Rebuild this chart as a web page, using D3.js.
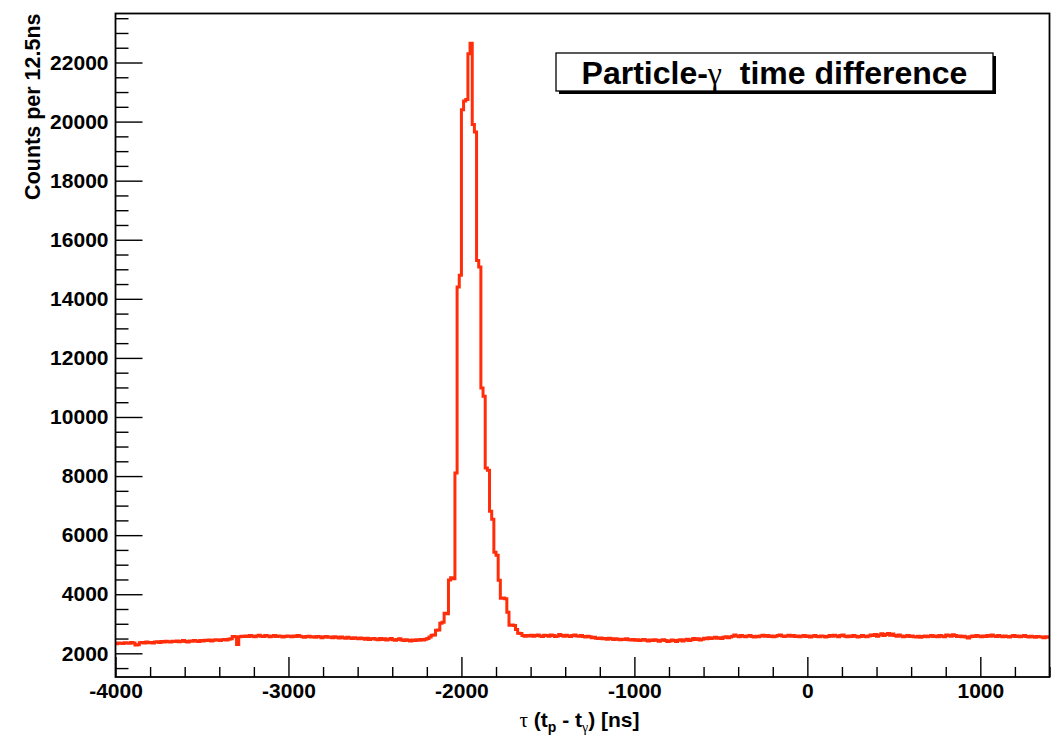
<!DOCTYPE html>
<html>
<head>
<meta charset="utf-8">
<script src="https://cdn.jsdelivr.net/npm/d3@7"></script>
<style>
  body { margin: 0; background: #fff; }
  svg text { font-family: "Liberation Sans", Arial, Helvetica, sans-serif; font-weight: bold; fill: #000; }
  .greek { font-family: "Liberation Serif", "Times New Roman", serif; font-weight: normal; }
</style>
</head>
<body>
<div id="chart"></div>
<script>
// histogram layout: 432 bins of 12.5 ns from -4000 to 1400
var xMin = -4000, xMax = 1400, binWidth = 12.5;

// counts (bins 0..145, before the peak)
var leftCounts = [
  2320, 2350, 2340, 2330, 2360, 2350, 2340, 2370, 2350, 2280, 2290, 2360, 2370, 2350, 2380, 2360, 2370, 2350, 2380, 2390,
  2370, 2400, 2380, 2410, 2390, 2380, 2410, 2400, 2420, 2390, 2410, 2430, 2400, 2380, 2420, 2410, 2430, 2420, 2400, 2430,
  2420, 2440, 2430, 2450, 2420, 2440, 2460, 2450, 2430, 2460, 2470, 2450, 2480, 2490, 2570, 2560, 2300, 2560, 2580, 2570,
  2590, 2570, 2600, 2580, 2560, 2590, 2610, 2580, 2570, 2600, 2590, 2560, 2580, 2600, 2570, 2590, 2580, 2550, 2570, 2590,
  2580, 2560, 2590, 2570, 2600, 2580, 2560, 2540, 2570, 2580, 2550, 2560, 2540, 2570, 2560, 2530, 2550, 2570, 2540, 2550,
  2530, 2560, 2540, 2520, 2550, 2530, 2510, 2540, 2520, 2500, 2530, 2510, 2490, 2520, 2500, 2480, 2510, 2470, 2490, 2500,
  2480, 2460, 2500, 2470, 2490, 2450, 2480, 2500, 2460, 2440, 2470, 2490, 2450, 2430, 2460, 2440, 2420, 2450, 2430, 2460,
  2440, 2470, 2450, 2480, 2500, 2550
];
// bins 146..190, the peak
var peakCounts = [
  2610, 2620, 2780, 2790, 3020, 3050, 3360, 3340, 4480, 4560,
  4520, 8100, 14400, 14800, 20400, 20700, 20750, 22300, 22650, 19900,
  19650, 15300, 15080, 10980, 10700, 8270, 8200, 6810, 6540, 5420,
  5320, 4470, 3860, 3870, 3850, 3390, 2950, 2960, 2940, 2810,
  2680, 2670, 2600, 2580, 2600
];
// bins 191..431, after the peak
var rightCounts = [
  2590, 2610, 2580, 2600, 2620, 2590, 2570, 2610, 2600, 2580, 2620, 2600, 2570, 2590, 2640, 2600, 2580, 2610, 2590, 2570,
  2600, 2620, 2590, 2580, 2600, 2570, 2550, 2580, 2560, 2530, 2540, 2510, 2500, 2520, 2490, 2500, 2480, 2510, 2490, 2470,
  2490, 2480, 2460, 2480, 2470, 2490, 2460, 2450, 2470, 2440, 2460, 2430, 2450, 2470, 2440, 2420, 2450, 2430, 2460, 2440,
  2410, 2440, 2460, 2430, 2400, 2420, 2450, 2430, 2400, 2440, 2460, 2420, 2450, 2480, 2430, 2460, 2500, 2470, 2490, 2450,
  2480, 2510, 2490, 2530, 2500, 2520, 2540, 2510, 2530, 2500, 2540, 2560, 2530, 2550, 2580, 2620, 2590, 2560, 2600, 2580,
  2560, 2590, 2600, 2570, 2550, 2580, 2560, 2590, 2610, 2580, 2600, 2570, 2590, 2560, 2580, 2600, 2620, 2590, 2570, 2590,
  2610, 2580, 2600, 2570, 2590, 2560, 2580, 2600, 2570, 2590, 2550, 2580, 2600, 2570, 2560, 2590, 2580, 2550, 2570, 2600,
  2580, 2610, 2590, 2560, 2600, 2620, 2580, 2560, 2590, 2570, 2600, 2580, 2550, 2570, 2600, 2580, 2560, 2590, 2620, 2600,
  2640, 2580, 2620, 2660, 2600, 2640, 2670, 2610, 2650, 2600, 2580, 2620, 2590, 2560, 2580, 2600, 2570, 2590, 2560, 2550,
  2580, 2540, 2570, 2590, 2560, 2580, 2600, 2570, 2590, 2560, 2600, 2580, 2560, 2620, 2600, 2580, 2630, 2600, 2570, 2590,
  2560, 2580, 2550, 2520, 2560, 2590, 2570, 2600, 2580, 2560, 2590, 2570, 2600, 2580, 2620, 2590, 2570, 2600, 2580, 2560,
  2590, 2570, 2550, 2580, 2600, 2570, 2590, 2560, 2580, 2600, 2570, 2550, 2580, 2560, 2540, 2570, 2560, 2550, 2530, 2560, 2540
];

var xMajorTicks = [-4000, -3000, -2000, -1000, 0, 1000];
var yMajorTicks = [2000, 4000, 6000, 8000, 10000, 12000, 14000, 16000, 18000, 20000, 22000];

var title = "Particle-";
var yTitle = "Counts per 12.5ns";

var counts = leftCounts.concat(peakCounts, rightCounts);
console.log(counts.length);

var width = 1064, height = 744;
var frame = {left: 115.5, right: 1049.5, top: 13.5, bottom: 677};

var x = d3.scaleLinear()
  .domain([xMin, xMax])
  .range([frame.left, frame.right]);

var y = d3.scaleLinear()
  .domain([1198, 23659])
  .range([frame.bottom, frame.top]);

var svg = d3.select("#chart").append("svg")
  .attr("width", width)
  .attr("height", height)
  .attr("viewBox", [0, 0, width, height]);

// minor tick values
var xMinor = d3.range(xMin, xMax + 1, 200).filter(v => xMajorTicks.indexOf(v) < 0);
var yMinor = d3.range(1500, 23600, 500).filter(v => yMajorTicks.indexOf(v) < 0);

// histogram line
var pts = counts.map((c, i) => [xMin + i * binWidth, c]);
pts.push([xMax, counts[counts.length - 1]]);

var line = d3.line()
  .x(d => x(d[0]))
  .y(d => y(d[1]))
  .curve(d3.curveStepAfter);

svg.append("path")
  .datum(pts)
  .attr("fill", "none")
  .attr("stroke", "#ff2d0a")
  .attr("stroke-width", 3)
  .attr("stroke-linejoin", "miter")
  .attr("d", line);

// axes
var fs = 21;
svg.append("g")
  .attr("transform", `translate(0,${frame.bottom})`)
  .call(d3.axisBottom(x).tickValues(xMinor).tickSize(-10).tickFormat(""))
  .call(g => g.select(".domain").remove());

svg.append("g")
  .attr("transform", `translate(0,${frame.bottom})`)
  .call(d3.axisBottom(x).tickValues(xMajorTicks).tickSize(-20).tickPadding(6).tickFormat(d => String(d)))
  .call(g => g.select(".domain").remove())
  .call(g => g.selectAll("text").attr("font-size", fs).attr("fill", "#000"));

svg.append("g")
  .attr("transform", `translate(${frame.left},0)`)
  .call(d3.axisLeft(y).tickValues(yMinor).tickSize(-13).tickFormat(""))
  .call(g => g.select(".domain").remove());

svg.append("g")
  .attr("transform", `translate(${frame.left},0)`)
  .call(d3.axisLeft(y).tickValues(yMajorTicks).tickSize(-27).tickPadding(7).tickFormat(d => String(d)))
  .call(g => g.select(".domain").remove())
  .call(g => g.selectAll("text").attr("font-size", fs).attr("fill", "#000"));

svg.selectAll(".tick line").attr("stroke", "#000").attr("stroke-width", 1.4);

// frame
svg.append("rect")
  .attr("x", frame.left)
  .attr("y", frame.top)
  .attr("width", frame.right - frame.left)
  .attr("height", frame.bottom - frame.top)
  .attr("fill", "none")
  .attr("stroke", "#000")
  .attr("stroke-width", 1.8);

// y title
svg.append("text")
  .attr("transform", `translate(40,${frame.top}) rotate(-90)`)
  .attr("text-anchor", "end")
  .attr("font-size", 21.5)
  .text(yTitle);

// x title
var xt = svg.append("text")
  .attr("x", (frame.left + frame.right) / 2 - 3)
  .attr("y", 727)
  .attr("text-anchor", "middle")
  .attr("font-size", 21);
xt.append("tspan").attr("class", "greek").text("\u03c4");
xt.append("tspan").text(" (t");
xt.append("tspan").attr("font-size", 14).attr("dy", 5).text("p");
xt.append("tspan").attr("dy", -5).text(" - t");
xt.append("tspan").attr("class", "greek").attr("font-size", 14).attr("dy", 5).text("\u03b3");
xt.append("tspan").attr("dy", -5).text(") [ns]");

// title box with shadow
var box = {x: 556, y: 53, w: 437, h: 38};
svg.append("rect")
  .attr("x", box.x + 3).attr("y", box.y + 3)
  .attr("width", box.w).attr("height", box.h)
  .attr("fill", "#000");
svg.append("rect")
  .attr("x", box.x).attr("y", box.y)
  .attr("width", box.w).attr("height", box.h)
  .attr("fill", "#fff")
  .attr("stroke", "#000")
  .attr("stroke-width", 1.3);

var tt = svg.append("text")
  .attr("x", box.x + box.w / 2)
  .attr("y", box.y + 30.5)
  .attr("text-anchor", "middle")
  .attr("font-size", 32);
tt.append("tspan").text(title);
tt.append("tspan").attr("class", "greek").text("\u03b3");
tt.append("tspan").text("\u00a0 time difference");
</script>
</body>
</html>
